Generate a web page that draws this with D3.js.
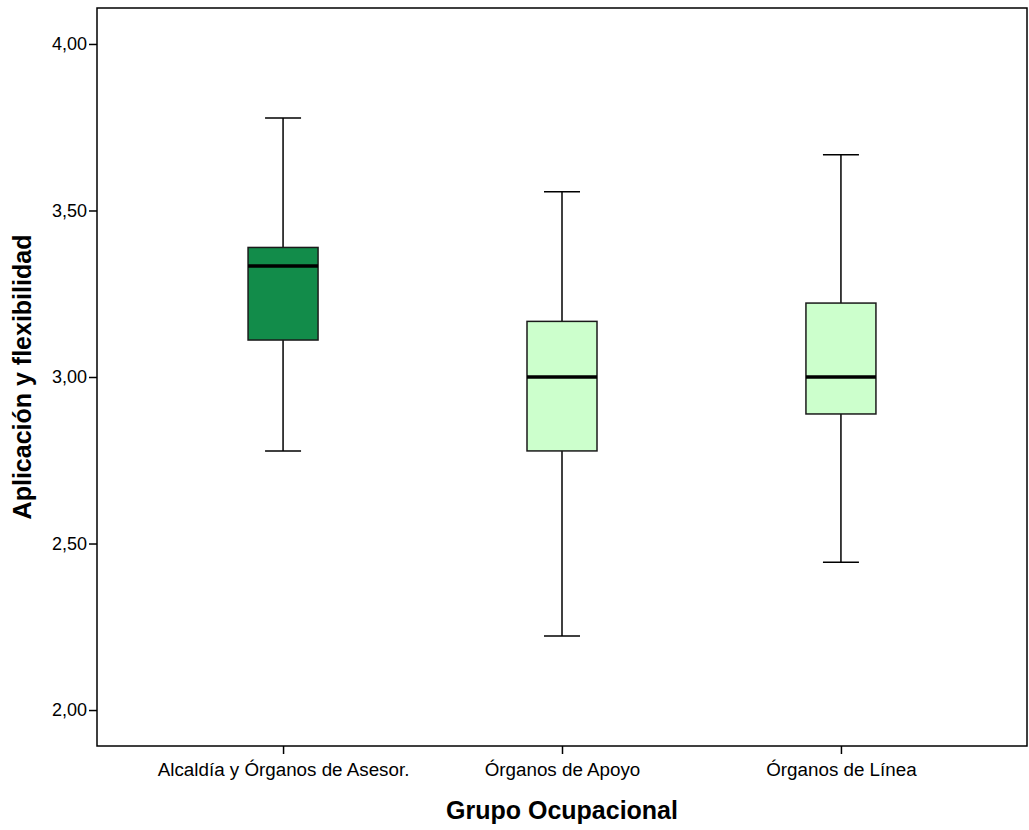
<!DOCTYPE html>
<html>
<head>
<meta charset="utf-8">
<script src="https://cdn.jsdelivr.net/npm/d3@7"></script>
<style>
  body { margin: 0; background: #fff; }
  text { font-family: "Liberation Sans", Arial, sans-serif; fill: #000; }
</style>
</head>
<body>
<div id="chart"></div>
<script>
// box plot data
const groups = ["Alcaldía y Órganos de Asesor.", "Órganos de Apoyo", "Órganos de Línea"];
const whiskerLow = [2.778, 2.222, 2.444];
const q1 = [3.111, 2.778, 2.889];
const median = [3.333, 3.0, 3.0];
const q3 = [3.389, 3.167, 3.222];
const whiskerHigh = [3.778, 3.556, 3.667];
const fills = ["#128c4a", "#ccffcc", "#ccffcc"];
const yTicks = [2.0, 2.5, 3.0, 3.5, 4.0];

const width = 1029, height = 830;
const margin = { top: 8, right: 2, bottom: 84, left: 97 };
const w = width - margin.left - margin.right,
      h = height - margin.top - margin.bottom;

const svg = d3.select("#chart").append("svg")
  .attr("width", width)
  .attr("height", height);

const g = svg.append("g")
  .attr("transform", "translate(" + margin.left + "," + margin.top + ")");

const x = d3.scalePoint()
  .domain(groups)
  .range([0, w])
  .padding(0.667);

const y = d3.scaleLinear()
  .domain([1.892, 4.108])
  .range([h, 0]);

const fmt = d => d3.format(".2f")(d).replace(".", ",");

// frame
g.append("rect")
  .attr("width", w).attr("height", h)
  .attr("fill", "none").attr("stroke", "#000").attr("stroke-width", 1.5);

// axes
const yAxis = g.append("g")
  .call(d3.axisLeft(y).tickValues(yTicks).tickFormat(fmt).tickSize(8).tickPadding(2));
yAxis.select(".domain").remove();
yAxis.selectAll("line").attr("stroke-width", 1.5);
yAxis.selectAll("text").style("font-size", "18px").style("font-family", "Liberation Sans, Arial, sans-serif");

const xAxis = g.append("g")
  .attr("transform", "translate(0," + h + ")")
  .call(d3.axisBottom(x).tickSize(8).tickPadding(9));
xAxis.select(".domain").remove();
xAxis.selectAll("line").attr("stroke-width", 1.5);
xAxis.selectAll("text").style("font-size", "18.8px").style("font-family", "Liberation Sans, Arial, sans-serif");

// axis titles
svg.append("text")
  .attr("x", margin.left + w / 2)
  .attr("y", 819)
  .attr("text-anchor", "middle")
  .style("font-size", "25px").style("font-weight", "bold")
  .text("Grupo Ocupacional");

svg.append("text")
  .attr("transform", "translate(31," + (margin.top + h / 2) + ") rotate(-90)")
  .attr("text-anchor", "middle")
  .style("font-size", "25px").style("font-weight", "bold")
  .text("Aplicación y flexibilidad");

// boxes
const boxW = 70, capW = 36;
const data = groups.map((d, i) => ({
  name: d, lo: whiskerLow[i], q1: q1[i], med: median[i], q3: q3[i], hi: whiskerHigh[i], fill: fills[i]
}));

const box = g.selectAll(".box")
  .data(data)
  .enter().append("g")
  .attr("class", "box")
  .attr("transform", d => "translate(" + x(d.name) + ",0)");

box.append("line")
  .attr("y1", d => y(d.hi)).attr("y2", d => y(d.q3))
  .attr("stroke", "#000").attr("stroke-width", 1.5);
box.append("line")
  .attr("y1", d => y(d.q1)).attr("y2", d => y(d.lo))
  .attr("stroke", "#000").attr("stroke-width", 1.5);
box.append("line")
  .attr("x1", -capW / 2).attr("x2", capW / 2)
  .attr("y1", d => y(d.hi)).attr("y2", d => y(d.hi))
  .attr("stroke", "#000").attr("stroke-width", 1.5);
box.append("line")
  .attr("x1", -capW / 2).attr("x2", capW / 2)
  .attr("y1", d => y(d.lo)).attr("y2", d => y(d.lo))
  .attr("stroke", "#000").attr("stroke-width", 1.5);

box.append("rect")
  .attr("x", -boxW / 2).attr("width", boxW)
  .attr("y", d => y(d.q3))
  .attr("height", d => y(d.q1) - y(d.q3))
  .attr("fill", d => d.fill)
  .attr("stroke", "#1a1a1a").attr("stroke-width", 1.5);

box.append("line")
  .attr("x1", -boxW / 2).attr("x2", boxW / 2)
  .attr("y1", d => y(d.med)).attr("y2", d => y(d.med))
  .attr("stroke", "#000").attr("stroke-width", 3.5);
</script>
</body>
</html>
